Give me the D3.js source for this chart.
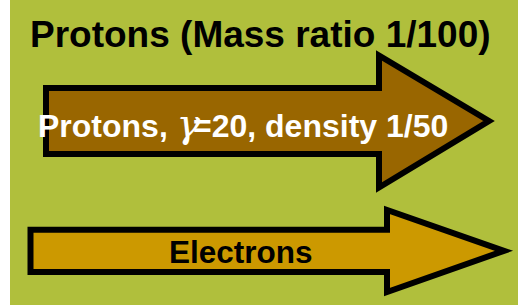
<!DOCTYPE html>
<html>
<head>
<meta charset="utf-8">
<script src="https://cdn.jsdelivr.net/npm/d3@7"></script>
<style>
  body { margin: 0; background: #ffffff; }
</style>
</head>
<body>
<div id="diagram"></div>
<script>
// diagram content
var title = "Protons (Mass ratio 1/100)";
var species = ["Protons", "Electrons"];
var labelsBefore = ["Protons, ", "Electrons"];
var labelsGreek = ["\u03b3", ""];
var labelsAfter = ["=20, density 1/50", ""];
var fills = ["#996600", "#cc9900"];
var textColors = ["#ffffff", "#000000"];

const width = 518, height = 306;

var svg = d3.select("#diagram")
    .append("svg")
    .attr("width", width)
    .attr("height", height);

// background panel
svg.append("rect")
    .attr("x", 10)
    .attr("y", 0)
    .attr("width", width - 10)
    .attr("height", 305)
    .style("fill", "#b0bf3c");

// arrow geometry (pixels), one entry per species
var geom = {
    Protons:   { x0: 46, top: 88, bottom: 154, base: 379, headTop: 55.5, headBottom: 187.5, tip: 489,
                 textX: 38, greekX: 176.5, afterX: 193, textY: 137, size: 32 },
    Electrons: { x0: 30.5, top: 229.7, bottom: 272, base: 387, headTop: 210, headBottom: 292, tip: 504,
                 textX: 169, greekX: 0, afterX: 0, textY: 263, size: 31.5 }
};

function arrowPath(g) {
    var p = d3.path();
    var mid = (g.top + g.bottom) / 2;
    p.moveTo(g.x0, g.top);
    p.lineTo(g.base, g.top);
    p.lineTo(g.base, g.headTop);
    p.lineTo(g.tip, mid);
    p.lineTo(g.base, g.headBottom);
    p.lineTo(g.base, g.bottom);
    p.lineTo(g.x0, g.bottom);
    p.closePath();
    return p.toString();
}

var arrows = svg.selectAll(".arrow")
    .data(species)
    .enter().append("g")
    .attr("class", "arrow");

arrows.append("path")
    .attr("d", function (d) { return arrowPath(geom[d]); })
    .style("fill", function (d, i) { return fills[i]; })
    .style("stroke", "#000")
    .style("stroke-width", 6)
    .style("stroke-linejoin", "miter");

var label = arrows.append("text")
    .attr("x", function (d) { return geom[d].textX; })
    .attr("y", function (d) { return geom[d].textY; })
    .style("font-family", "'Liberation Sans', Arial, sans-serif")
    .style("font-weight", "bold")
    .style("font-size", function (d) { return geom[d].size + "px"; })
    .style("fill", function (d, i) { return textColors[i]; });

label.append("tspan").text(function (d, i) { return labelsBefore[i]; });
label.filter(function (d, i) { return labelsGreek[i] !== ""; })
    .append("tspan")
    .attr("x", function (d) { return geom[d].greekX; })
    .style("font-family", "'DejaVu Serif', 'Liberation Serif', serif")
    .style("font-style", "italic")
    .style("font-weight", "normal")
    .style("font-size", "40px")
    .text(function (d) { return labelsGreek[species.indexOf(d)]; });
label.filter(function (d, i) { return labelsAfter[i] !== ""; })
    .append("tspan")
    .attr("x", function (d) { return geom[d].afterX; })
    .text(function (d) { return labelsAfter[species.indexOf(d)]; });

// title
svg.append("text")
    .attr("x", 30)
    .attr("y", 46.5)
    .style("font-family", "'Liberation Sans', Arial, sans-serif")
    .style("font-weight", "bold")
    .style("font-size", "37px")
    .style("fill", "#000")
    .text(title);
</script>
</body>
</html>
